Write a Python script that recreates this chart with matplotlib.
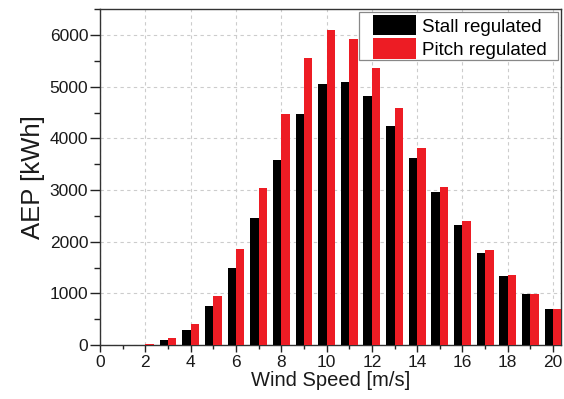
import numpy as np
import matplotlib.pyplot as plt
from matplotlib.patches import Rectangle
from matplotlib.ticker import MultipleLocator

plt.rcParams['font.family'] = ['Liberation Sans', 'DejaVu Sans']

wind_speed = np.arange(1, 21)
stall = [0, 0, 100, 290, 755, 1484, 2452, 3580, 4477, 5045,
         5090, 4813, 4239, 3613, 2955, 2316, 1774, 1335, 981, 690]
pitch = [0, 10, 142, 400, 955, 1865, 3032, 4477, 5561, 6103,
         5916, 5355, 4581, 3813, 3064, 2400, 1832, 1355, 981, 690]

fig = plt.figure(figsize=(5.64, 3.99), dpi=100)
ax = fig.add_axes([0.1773, 0.1353, 0.8174, 0.8417])

w = 0.37
ax.bar(wind_speed - w / 2, stall, width=w, color='black', label='Stall regulated', zorder=3)
ax.bar(wind_speed + w / 2, pitch, width=w, color='#ed1c24', label='Pitch regulated', zorder=3)

ax.set_xlim(0, 20.35)
ax.set_ylim(0, 6500)
ax.xaxis.set_major_locator(MultipleLocator(2))
ax.xaxis.set_minor_locator(MultipleLocator(1))
ax.yaxis.set_major_locator(MultipleLocator(1000))
ax.yaxis.set_minor_locator(MultipleLocator(500))
ax.tick_params(which='both', direction='out', labelsize=12.5, colors='#222222',
               labelcolor='#1a1a1a', width=1)
ax.tick_params(axis='x', which='major', length=5, pad=2)
ax.tick_params(axis='x', which='minor', length=3)
ax.tick_params(axis='y', which='major', length=7, pad=1.5)
ax.tick_params(axis='y', which='minor', length=4)
ax.grid(True, which='major', linestyle=(0, (3, 3)), color='#cccccc', linewidth=0.8, zorder=0)

for s in ax.spines.values():
    s.set_color('#333333')
    s.set_linewidth(1.0)

ax.set_xlabel('Wind Speed [m/s]', fontsize=14.5, labelpad=1, color='#1a1a1a')
ax.set_ylabel('AEP [kWh]', fontsize=18.5, labelpad=3, color='#1a1a1a')

# legend content without frame; frame drawn separately with wider side padding
leg = ax.legend(loc='upper right', bbox_to_anchor=(547 / 564, 1 - 15 / 399),
                bbox_transform=fig.transFigure, fontsize=13.5, frameon=False,
                borderpad=0, borderaxespad=0, handlelength=2.3, handleheight=1.3,
                handletextpad=0.35, labelspacing=0.15)
leg.set_zorder(6)
fig.canvas.draw()
bb = leg.get_window_extent().transformed(fig.transFigure.inverted())
px, py = 1 / 564, 1 / 399
frame = Rectangle((bb.x0 - 14 * px, bb.y0 - 1 * py),
                  bb.width + 25 * px, bb.height + 4 * py,
                  transform=fig.transFigure, facecolor='white', edgecolor='#888888',
                  linewidth=0.9, zorder=5, clip_on=False)
ax.add_patch(frame)

fig.savefig('out.png', dpi=100)
